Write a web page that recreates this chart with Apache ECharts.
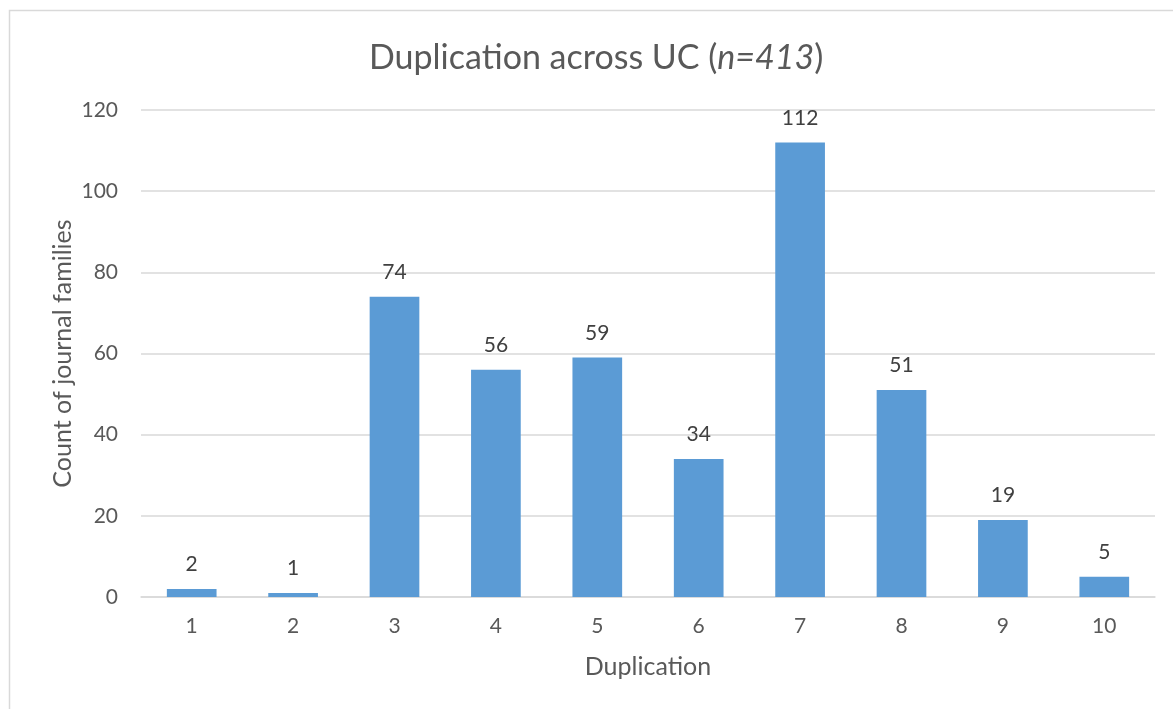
<!DOCTYPE html>
<html lang="en">
<head>
    <meta charset="UTF-8">
    <title>Duplication across UC</title>
    <script src="https://cdn.jsdelivr.net/npm/echarts@6/dist/echarts.min.js"></script>
    <style>
        html, body { margin: 0; padding: 0; background: #fff; }
    </style>
</head>
<body>
    <div id="main" style="width: 1173px;height:709px;"></div>
    <script type="text/javascript">
        // data
        var categories = ['1', '2', '3', '4', '5', '6', '7', '8', '9', '10'];
        var counts = [2, 1, 74, 56, 59, 34, 112, 51, 19, 5];
        var yTicks = { min: 0, max: 120, interval: 20 };

        var font = 'Lato, "Open Sans", sans-serif';
        var myChart = echarts.init(document.getElementById('main'));

        var option = {
            backgroundColor: '#fff',
            textStyle: { fontFamily: font },
            graphic: [{
                type: 'rect',
                shape: { x: 9.5, y: 10.5, width: 1300, height: 800 },
                style: { fill: 'none', stroke: '#d9d9d9', lineWidth: 1.5 },
                silent: true
            }],
            title: {
                left: 364,
                top: 36,
                text: '{a|Duplication across UC (}{i|n=413}{a|)}',
                textStyle: {
                    fontWeight: 'normal',
                    rich: {
                        a: { fontSize: 34, color: '#595959', fontFamily: font, fontWeight: 'normal' },
                        i: { fontSize: 34, color: '#595959', fontFamily: font, fontWeight: 'normal', fontStyle: 'italic' }
                    }
                }
            },
            grid: { left: 141, right: 18, top: 110, bottom: 112 },
            xAxis: {
                type: 'category',
                data: categories,
                name: 'Duplication',
                nameLocation: 'middle',
                nameGap: 57,
                nameMoveOverlap: false,
                nameTextStyle: { fontSize: 25, color: '#595959' },
                axisLine: { lineStyle: { color: '#d9d9d9', width: 1.5 } },
                axisTick: { show: false },
                axisLabel: { fontSize: 21, color: '#595959', margin: 19 }
            },
            yAxis: {
                type: 'value',
                min: yTicks.min,
                max: yTicks.max,
                interval: yTicks.interval,
                name: 'Count of journal families',
                nameLocation: 'middle',
                nameGap: 66,
                nameMoveOverlap: false,
                nameTextStyle: { fontSize: 25, color: '#595959' },
                axisLine: { show: false },
                axisTick: { show: false },
                axisLabel: { fontSize: 21, color: '#595959', margin: 23 },
                splitLine: { lineStyle: { color: '#d9d9d9', width: 1.5 } }
            },
            series: [{
                type: 'bar',
                data: counts,
                barWidth: '49%',
                itemStyle: { color: '#5b9bd5' },
                label: {
                    show: true,
                    position: 'top',
                    distance: 14,
                    fontSize: 21,
                    color: '#404040',
                    fontFamily: font
                }
            }]
        };
        myChart.setOption(option);
    </script>
</body>
</html>
